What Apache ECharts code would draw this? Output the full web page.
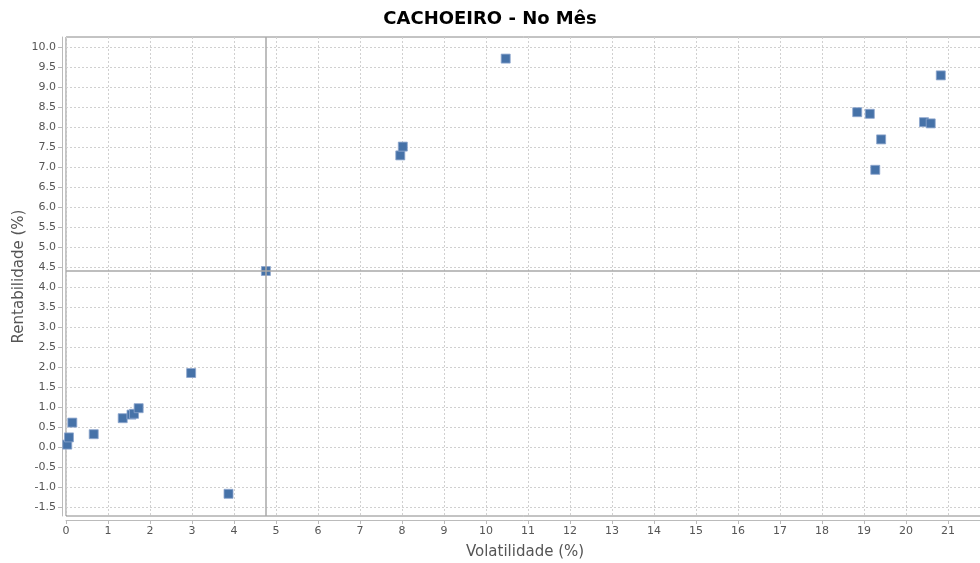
<!DOCTYPE html>
<html>
<head>
<meta charset="utf-8">
<script src="https://cdn.jsdelivr.net/npm/echarts@6/dist/echarts.min.js"></script>
<style>html,body{margin:0;padding:0;background:#fff}#c{width:980px;height:563px}</style>
</head>
<body>
<div id="c"></div>
<script>
var volatilidade = [0.03, 0.07, 0.15, 0.66, 1.35, 1.56, 1.62, 1.73, 2.98, 3.87, 4.76, 7.96, 8.02, 10.47, 18.84, 19.14, 19.27, 19.41, 20.43, 20.59, 20.83];
var rentabilidade = [0.06, 0.24, 0.61, 0.32, 0.72, 0.81, 0.83, 0.97, 1.85, -1.17, 4.40, 7.29, 7.51, 9.71, 8.37, 8.33, 6.93, 7.69, 8.12, 8.09, 9.29];
var mediaX = 4.76;
var mediaY = 4.40;
var yTicks = [-1.5, -1.0, -0.5, 0.0, 0.5, 1.0, 1.5, 2.0, 2.5, 3.0, 3.5, 4.0, 4.5, 5.0, 5.5, 6.0, 6.5, 7.0, 7.5, 8.0, 8.5, 9.0, 9.5, 10.0];
var xTicks = [0,1,2,3,4,5,6,7,8,9,10,11,12,13,14,15,16,17,18,19,20,21];

var points = volatilidade.map(function(v, i){ return [v, rentabilidade[i]]; });
var font = 'DejaVu Sans';
var chart = echarts.init(document.getElementById('c'));
chart.setOption({
  animation: false,
  title: {
    text: 'CACHOEIRO - No Mês', left: 'center', top: 5,
    textStyle: {fontFamily: font, fontSize: 18, fontWeight: 'bold', color: '#000'}
  },
  grid: {left: 66, top: 37, right: -20, bottom: 47, outerBoundsMode: 'none', containLabel: false,
    show: true, borderColor: '#888', borderWidth: 1, backgroundColor: '#fff'},
  xAxis: {
    type: 'value', min: 0, max: 22.24, interval: 1, offset: 4,
    name: 'Volatilidade (%)', nameLocation: 'middle', nameGap: 25,
    nameTextStyle: {fontFamily: font, fontSize: 15, color: '#555', padding: [0, 16, 0, 0]},
    axisLine: {show: true, onZero: false, lineStyle: {color: '#bbb'}},
    axisTick: {show: true, length: 4, lineStyle: {color: '#bbb'}, customValues: xTicks},
    axisLabel: {fontFamily: font, fontSize: 11, color: '#555', margin: 6, customValues: xTicks},
    splitLine: {show: true, lineStyle: {color: '#d0d0d0', type: [2, 2]}}
  },
  yAxis: {
    type: 'value', min: -1.725, max: 10.25, splitNumber: 24, offset: 4,
    name: 'Rentabilidade (%)', nameLocation: 'middle', nameGap: 35, nameRotate: 90,
    nameMoveOverlap: false,
    nameTextStyle: {fontFamily: font, fontSize: 15, color: '#555'},
    axisLine: {show: true, onZero: false, lineStyle: {color: '#bbb'}},
    axisTick: {show: true, length: 4, lineStyle: {color: '#bbb'}, customValues: yTicks},
    axisLabel: {fontFamily: font, fontSize: 11, color: '#555', margin: 6, customValues: yTicks,
      formatter: function(v){ return v.toFixed(1); }},
    splitLine: {show: true, lineStyle: {color: '#d0d0d0', type: [2, 2]}}
  },
  series: [{
    type: 'scatter', symbol: 'rect', symbolSize: 9,
    itemStyle: {color: '#4672a8', borderColor: 'rgba(140,165,205,0.8)', borderWidth: 1, opacity: 1},
    data: points,
    markLine: {
      silent: true, symbol: 'none', label: {show: false}, animation: false,
      lineStyle: {color: '#a8a8a8', width: 1.5, type: 'solid'},
      data: [{xAxis: mediaX}, {yAxis: mediaY}]
    },
    z: 3
  }]
});
</script>
</body>
</html>
